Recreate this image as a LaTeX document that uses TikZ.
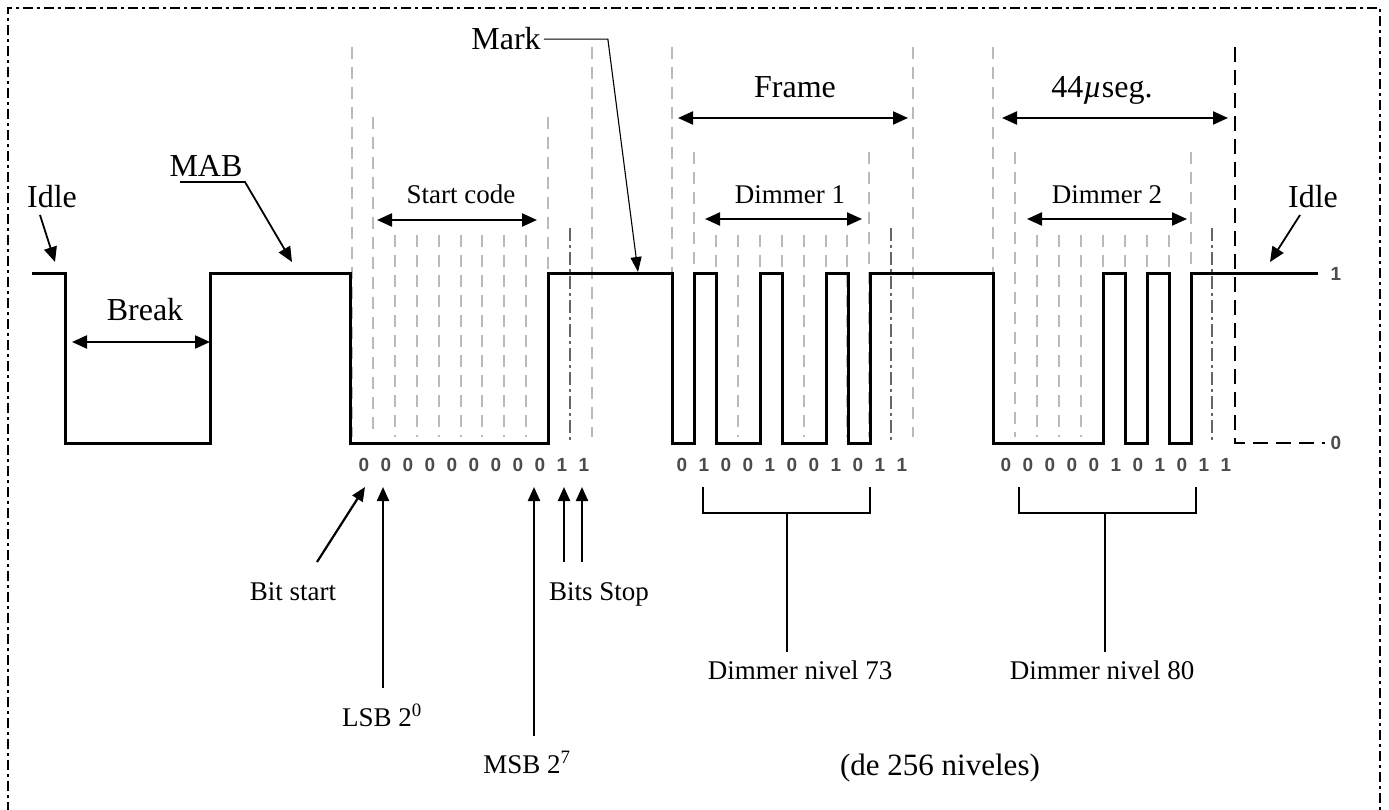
\documentclass[tikz,border=0pt]{standalone}
\usepackage{fontspec}
\setmainfont{Liberation Serif}
\newfontfamily\bitfont{Liberation Sans}
\usetikzlibrary{arrows.meta,calc}
\begin{document}
\begin{tikzpicture}[x=1pt,y=-1pt,
  sig/.style={line width=3pt,line join=miter},
  gridl/.style={draw=black!27,line width=1.8pt,dash pattern=on 12pt off 8pt},
  dotl/.style={draw=black!60,line width=2pt,dash pattern=on 13pt off 4pt on 3pt off 4pt},
  blkdash/.style={draw=black,line width=2.4pt,dash pattern=on 15pt off 8pt},
  dbl/.style={line width=2.2pt,{Triangle[length=15pt,width=13pt]}-{Triangle[length=15pt,width=13pt]}},
  ptr/.style={line width=1.8pt,-{Triangle[length=15pt,width=13pt]}},
  thinptr/.style={line width=1.1pt,-{Triangle[length=15pt,width=11pt]}},
  uparr/.style={line width=2.2pt,-{Triangle[length=14pt,width=12pt]}},
  big/.style={font=\fontsize{32}{36}\selectfont,inner sep=0pt,anchor=base},
  mid/.style={font=\fontsize{27}{30}\selectfont,inner sep=0pt,anchor=base},
  bit/.style={font=\bitfont\bfseries\fontsize{19}{20}\selectfont,text=black!70,inner sep=0pt},
  brack/.style={line width=2pt},
  frameline/.style={line width=1.5pt,dash pattern=on 10pt off 4pt on 3pt off 4pt},
]
\useasboundingbox (0,0) rectangle (1389,810);
\fill[white] (0,0) rectangle (1389,810);
% outer dash-dot frame
\draw[frameline] (8,812) -- (8,8) -- (1380,8) -- (1380,812);

% grid lines
\foreach \x in {352,592,672,913,993} \draw[gridl] (\x,47) -- (\x,437);
\foreach \x in {373,548} \draw[gridl] (\x,117) -- (\x,437);
\foreach \x in {694,869,1015,1191} \draw[gridl] (\x,152) -- (\x,437);
\foreach \x in {395,417,439,461,482,504,526,716,738,760,782,804,826,847,1037,1059,1081,1103,1125,1147,1169}
  \draw[gridl] (\x,235) -- (\x,437);
\foreach \x in {570,891,1212} \draw[dotl] (\x,228) -- (\x,443);
\draw[blkdash] (1235,47) -- (1235,443) -- (1325,443);

% signal
\draw[sig] (32,274) -- (65,274) -- (65,443) -- (210,443) -- (210,274) -- (350,274)
  -- (350,443) -- (548,443) -- (548,274) -- (672,274) -- (672,443) -- (694,443)
  -- (694,274) -- (716,274) -- (716,443) -- (760,443) -- (760,274) -- (782,274)
  -- (782,443) -- (826,443) -- (826,274) -- (848,274) -- (848,443) -- (870,443)
  -- (870,274) -- (993,274) -- (993,443) -- (1103,443) -- (1103,274) -- (1125,274)
  -- (1125,443) -- (1147,443) -- (1147,274) -- (1169,274) -- (1169,443) -- (1191,443)
  -- (1191,274) -- (1318,274);

% level labels
\node[bit] (lv1) at (1336,274) {1};
\node[bit] (lv0) at (1336,443) {0};

% bit labels
\foreach \b [count=\i from 0] in {0,0,0,0,0,0,0,0,0,1,1}
  \node[bit] (sa\i) at (364+22*\i,465) {\b};
\foreach \b [count=\i from 0] in {0,1,0,0,1,0,0,1,0,1,1}
  \node[bit] (fa\i) at (682+22*\i,465) {\b};
\foreach \b [count=\i from 0] in {0,0,0,0,0,1,0,1,0,1,1}
  \node[bit] (fb\i) at (1006+22*\i,465) {\b};

% Idle left
\node[big] (idleL) at (52,208) {Idle};
\coordinate (idleLp) at (55,262);
\draw[ptr] ([shift={(-12,7)}]idleL.base) -- (idleLp);

% Break
\node[big] (brk) at (145,320) {Break};
\coordinate (brkL) at (72,342);
\coordinate (brkR) at (210,342);
\draw[dbl] (brkL) -- (brkR);

% MAB
\node[big] (mab) at (206,177) {MAB};
\coordinate (mabp) at (292,262);
\draw[ptr] ([shift={(-26,5)}]mab.base) -- ([shift={(39,5)}]mab.base) -- (mabp);

% Mark
\node[big] (mark) at (506,50) {Mark};
\coordinate (markp) at (638,272);
\draw[thinptr] ([xshift=3pt]mark.east) -- ++(64,0) -- (markp);

% Start code
\node[mid] (sc) at (461,204) {Start code};
\coordinate (scL) at (377,220);
\coordinate (scR) at (537,220);
\draw[dbl] (scL) -- (scR);

% Frame
\node[big] (fr) at (795,98) {Frame};
\coordinate (frL) at (678,118);
\coordinate (frR) at (908,118);
\draw[dbl] (frL) -- (frR);

% Dimmer 1
\node[mid] (d1) at (790,204) {Dimmer 1};
\coordinate (d1L) at (705,219);
\coordinate (d1R) at (862,219);
\draw[dbl] (d1L) -- (d1R);

% 44 useg
\node[big] (us) at (1102,98) {44{\itshape µ}seg.};
\coordinate (usL) at (1002,118);
\coordinate (usR) at (1228,118);
\draw[dbl] (usL) -- (usR);

% Dimmer 2
\node[mid] (d2) at (1107,204) {Dimmer 2};
\coordinate (d2L) at (1027,219);
\coordinate (d2R) at (1187,219);
\draw[dbl] (d2L) -- (d2R);

% Idle right
\node[big] (idleR) at (1313,208) {Idle};
\coordinate (idleRp) at (1270,262);
\draw[ptr] ([shift={(-13,7)}]idleR.base) -- (idleRp);

% bottom annotations
\node[mid] (bst) at (293,600) {Bit start};
\node[mid] (lsb) at (382,726) {LSB 2\textsuperscript{0}};
\node[mid] (msb) at (527,773) {MSB 2\textsuperscript{7}};
\node[mid] (bsp) at (599,600) {Bits Stop};
\coordinate (bstp) at (365,487);
\coordinate (lsbp) at (383,487);
\coordinate (msbp) at (534,487);
\coordinate (bsp1) at (564,487);
\coordinate (bsp2) at (582,487);
\draw[uparr] ([shift={(24,-38)}]bst.base) -- (bstp);
\draw[uparr] ([shift={(1,-38)}]lsb.base) -- (lsbp);
\draw[uparr] ([shift={(7,-37)}]msb.base) -- (msbp);
\draw[uparr] ([shift={(-35,-38)}]bsp.base) -- (bsp1);
\draw[uparr] ([shift={(-17,-38)}]bsp.base) -- (bsp2);

% brackets
\node[mid] (dn73) at (800,679) {Dimmer nivel 73};
\node[mid] (dn80) at (1102,679) {Dimmer nivel 80};
\coordinate (b1m) at (787,513);
\coordinate (b2m) at (1105,513);
\draw[brack] (703,487) -- (703,513) -- (870,513) -- (870,487);
\draw[brack] (1019,487) -- (1019,513) -- (1196,513) -- (1196,487);
\draw[brack] (b1m) -- ([shift={(-13,-27)}]dn73.base);
\draw[brack] (b2m) -- ([shift={(3,-27)}]dn80.base);

\node[font=\fontsize{31}{34}\selectfont,inner sep=0pt,anchor=base] (niv) at (940,775) {(de 256 niveles)};
\end{tikzpicture}
\end{document}
